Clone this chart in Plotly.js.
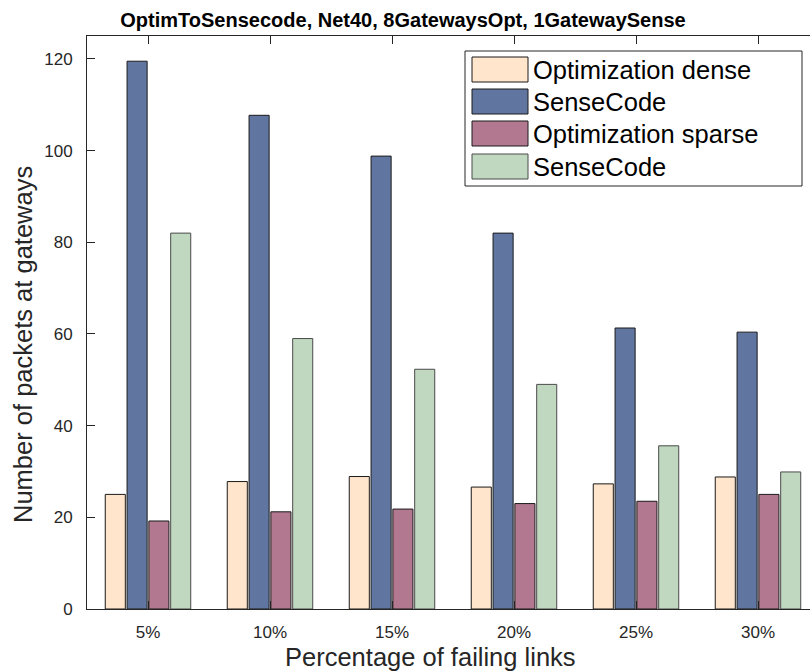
<!DOCTYPE html>
<html>
<head>
<meta charset="utf-8">
<script src="https://cdn.plot.ly/plotly-3.0.1.min.js"></script>
<style>
  html, body { margin: 0; padding: 0; width: 810px; height: 671px; overflow: hidden; background: #fff; }
  #chart { width: 830px; height: 671px; }
</style>
</head>
<body>
<div id="chart"></div>
<script>
// Failure rates on the x axis
const categories = ['5%', '10%', '15%', '20%', '25%', '30%'];

// Packets received at gateways for each scheme
const optimDense   = [25.0, 27.8, 28.9, 26.6, 27.3, 28.8];
const senseDense   = [119.5, 107.7, 98.8, 82.0, 61.3, 60.4];
const optimSparse  = [19.2, 21.2, 21.8, 23.0, 23.5, 25.0];
const senseSparse  = [82.0, 59.0, 52.3, 49.0, 35.6, 29.9];

const seriesNames  = ['Optimization dense', 'SenseCode', 'Optimization sparse', 'SenseCode'];
const seriesValues = [optimDense, senseDense, optimSparse, senseSparse];
const fillColors   = ['#FFE5CB', '#6076A0', '#B2788F', '#BFD8BF'];
const edgeColors   = ['#1a1a1a', '#1a1a1a', '#1a1a1a', '#4a4a4a'];

const titleText  = 'OptimToSensecode, Net40, 8GatewaysOpt, 1GatewaySense';
const xLabelText = 'Percentage of failing links';
const yLabelText = 'Number of packets at gateways';

const W = 830, H = 671;
const M = { l: 87, r: 11, t: 36, b: 62 };
const plotW = W - M.l - M.r, plotH = H - M.t - M.b;
const px = x => (x - M.l) / plotW;          // page x -> paper x
const py = y => (H - M.b - y) / plotH;      // page y -> paper y

const FONT = 'Liberation Sans, Arial, Helvetica, sans-serif';
const AXIS = '#262626';

const traces = seriesValues.map((vals, i) => ({
  type: 'bar',
  name: seriesNames[i],
  x: categories,
  y: vals,
  marker: { color: fillColors[i], line: { color: edgeColors[i], width: 1 } },
  showlegend: false,
  hoverinfo: 'x+y+name'
}));

// Legend box with large swatches
const shapes = [{
  type: 'rect', xref: 'paper', yref: 'paper',
  x0: px(465), x1: px(802), y0: py(186), y1: py(51),
  line: { color: AXIS, width: 1 }, fillcolor: '#ffffff', layer: 'above'
}];
const annotations = [];
const rowTops = [57, 89, 121, 154];
seriesNames.forEach((name, i) => {
  const top = rowTops[i];
  shapes.push({
    type: 'rect', xref: 'paper', yref: 'paper',
    x0: px(472), x1: px(528), y0: py(top + 25), y1: py(top),
    line: { color: edgeColors[i], width: 1 }, fillcolor: fillColors[i], layer: 'above'
  });
  annotations.push({
    xref: 'paper', yref: 'paper', x: px(531), y: py(top + 13),
    xanchor: 'left', yanchor: 'middle', showarrow: false,
    text: name, font: { family: FONT, size: 25.5, color: '#000' }
  });
});

// Axis labels
annotations.push({
  xref: 'paper', yref: 'paper', x: px(430), y: py(657),
  xanchor: 'center', yanchor: 'middle', showarrow: false,
  text: xLabelText, font: { family: FONT, size: 25.5, color: AXIS }
});
annotations.push({
  xref: 'paper', yref: 'paper', x: px(23), y: py(345),
  xanchor: 'center', yanchor: 'middle', showarrow: false, textangle: -90,
  text: yLabelText, font: { family: FONT, size: 25.5, color: AXIS }
});

const layout = {
  width: W, height: H,
  margin: M,
  paper_bgcolor: '#fff', plot_bgcolor: '#fff',
  barmode: 'group', bargap: 0.285, bargroupgap: 0.08,
  font: { family: FONT, color: AXIS },
  title: {
    text: '<b>' + titleText + '</b>',
    x: 403 / W, xref: 'container', xanchor: 'center',
    y: 1 - 20 / H, yref: 'container', yanchor: 'middle',
    font: { family: FONT, size: 20, color: '#000' }
  },
  xaxis: {
    type: 'category', range: [-0.5, 5.5],
    showline: true, linecolor: AXIS, linewidth: 1, mirror: 'ticks',
    ticks: 'inside', ticklen: 8, tickcolor: AXIS,
    ticklabelstandoff: 8,
    tickfont: { family: FONT, size: 17, color: AXIS },
    showgrid: false, zeroline: false
  },
  yaxis: {
    range: [0, 125], tickvals: [0, 20, 40, 60, 80, 100, 120],
    showline: true, linecolor: AXIS, linewidth: 1, mirror: 'ticks',
    ticks: 'inside', ticklen: 8, tickcolor: AXIS,
    ticklabelstandoff: 10,
    tickfont: { family: FONT, size: 17, color: AXIS },
    showgrid: false, zeroline: false
  },
  shapes: shapes,
  annotations: annotations
};

Plotly.newPlot('chart', traces, layout, { displayModeBar: false, staticPlot: true });
</script>
</body>
</html>
